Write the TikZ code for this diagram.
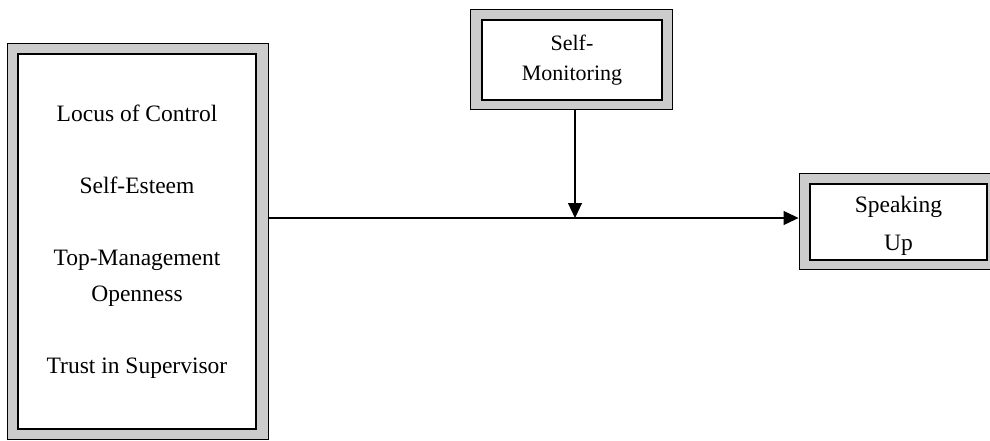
\documentclass[tikz,border=0pt]{standalone}
\usepackage{fontspec}
\setmainfont{Liberation Serif}
\usetikzlibrary{arrows.meta}
\begin{document}
\begin{tikzpicture}[x=1pt,y=-1pt,
  outerbox/.style={draw=black,line width=0.9pt,fill=gray!40,inner sep=0pt},
  innerbox/.style={draw=black,line width=1.4pt,fill=white,inner sep=0pt,align=center},
  conn/.style={line width=1.1pt,-{Triangle[length=15pt,width=14pt]}}]
\useasboundingbox (0,0) rectangle (990,440);
\clip (0,0) rectangle (990,440);
% left box
\node[outerbox,minimum width=261pt,minimum height=396pt] (lbo) at (137.5,241) {};
\node[innerbox,minimum width=238pt,minimum height=375pt,font=\fontsize{23.5}{36}\selectfont] (lb) at (137,241.5)
  {Locus of Control\\[36pt]Self-Esteem\\[36pt]Top-Management\\Openness\\[36pt]Trust in Supervisor};
% self-monitoring
\node[outerbox,minimum width=202pt,minimum height=100pt] (smo) at (571,59) {};
\node[innerbox,minimum width=180pt,minimum height=80pt,font=\fontsize{22}{30}\selectfont] (sm) at (572,60)
  {Self-\\Monitoring};
% speaking up
\node[outerbox,minimum width=200pt,minimum height=96pt] (spo) at (899,221) {};
\node[innerbox,minimum width=177pt,minimum height=76pt,font=\fontsize{23.5}{38}\selectfont,text depth=0pt] (sp) at (898.5,222)
  {\raisebox{-3pt}{Speaking}\\\raisebox{-3pt}{Up}};
% connectors
\coordinate (j) at (575,218);
\draw[conn] (smo.south -| j) -- (j);
\draw[conn] (lbo.east |- j) -- (spo.west |- j);
\end{tikzpicture}
\end{document}
